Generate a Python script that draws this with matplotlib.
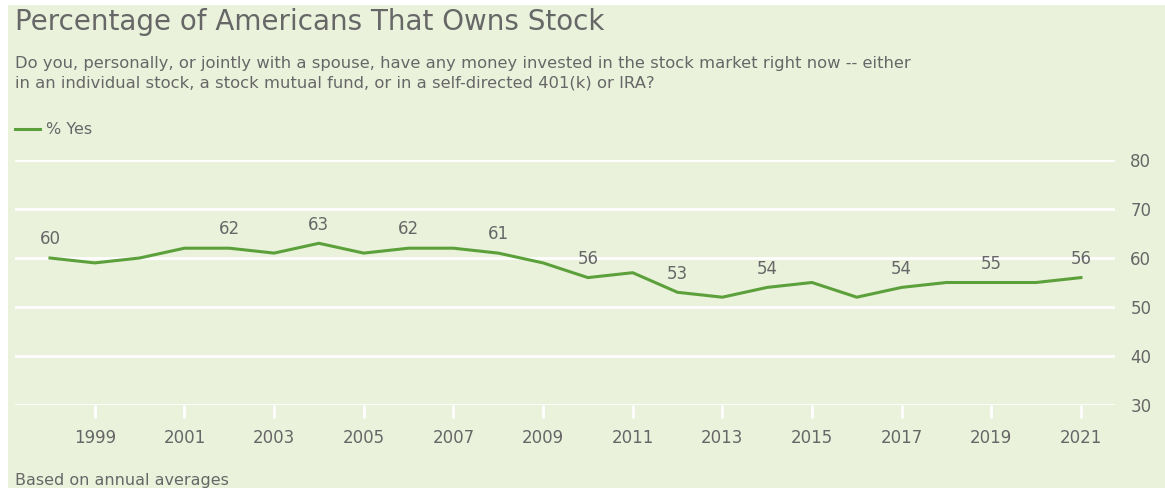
import matplotlib
matplotlib.use("Agg")
import matplotlib.pyplot as plt
from matplotlib.patches import Rectangle

years = list(range(1998, 2022))
pct_yes = [60, 59, 60, 62, 62, 61, 63, 61, 62, 62, 61, 59, 56, 57, 53, 52, 54, 55, 52, 54, 55, 55, 55, 56]
labeled_years = [1998, 2002, 2004, 2006, 2008, 2010, 2012, 2014, 2017, 2019, 2021]
x_ticks = list(range(1999, 2022, 2))
y_ticks = [30, 40, 50, 60, 70, 80]

title = "Percentage of Americans That Owns Stock"
subtitle = ("Do you, personally, or jointly with a spouse, have any money invested in the stock market right now -- either\n"
            "in an individual stock, a stock mutual fund, or in a self-directed 401(k) or IRA?")
series_name = "% Yes"
footer = "Based on annual averages"

BG = "#EAF2DC"
LINE = "#5BA03A"
TXT = "#676767"
FONT = ["DejaVu Sans"]
plt.rcParams['font.family'] = FONT

W, H = 1165, 488
fig = plt.figure(figsize=(W / 100, H / 100), dpi=100)
fig.patch.set_facecolor("white")
fig.patches.append(Rectangle((8 / W, 0), 1, 1 - 5 / H, transform=fig.transFigure,
                             facecolor=BG, edgecolor="none", zorder=-10))

ax = fig.add_axes([15 / W, (H - 405) / H, 1100 / W, 245 / H])
ax.set_facecolor("none")
ax.plot(years, pct_yes, color=LINE, lw=2.2, solid_joinstyle="round", zorder=3)
for yr, v in zip(years, pct_yes):
    if yr in labeled_years:
        ax.annotate(str(v), (yr, v), xytext=(0, 13.5), textcoords="offset points",
                    ha="center", va="center", color=TXT, fontsize=12)

ax.set_xlim(1997.22, 2021.76)
ax.set_ylim(30, 80)
ax.set_yticks(y_ticks)
ax.yaxis.tick_right()
ax.yaxis.grid(True, color="white", lw=2)
ax.set_axisbelow(True)
ax.tick_params(axis="y", length=0, pad=11, labelsize=12, labelcolor=TXT)
ax.set_xticks(x_ticks)
ax.set_xticklabels([str(t) for t in x_ticks])
ax.tick_params(axis="x", length=9, width=2, color="white", pad=8, labelsize=12, labelcolor=TXT)
for s in ax.spines.values():
    s.set_visible(False)

fig.text(15 / W, 1 - 22 / H, title, fontsize=20, color=TXT, va="center", ha="left")
fig.text(15 / W, 1 - 73 / H, subtitle, fontsize=11.8, color=TXT, va="center", ha="left", linespacing=1.35)
fig.lines.append(plt.Line2D([15 / W, 40 / W], [1 - 129 / H] * 2, transform=fig.transFigure, color=LINE, lw=2.2))
fig.text(46 / W, 1 - 129 / H, series_name, fontsize=11.5, color=TXT, va="center", ha="left")
fig.text(15 / W, 1 - 480 / H, footer, fontsize=11.5, color=TXT, va="center", ha="left")

fig.savefig("out.png", dpi=100, facecolor=fig.get_facecolor())
